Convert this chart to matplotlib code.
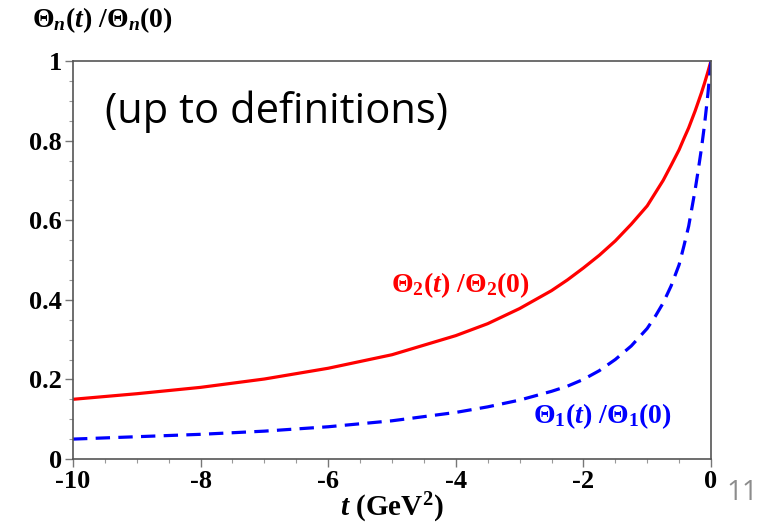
import matplotlib
matplotlib.use("Agg")
import matplotlib.pyplot as plt
from matplotlib.ticker import MultipleLocator

plt.rcParams['mathtext.fontset'] = 'custom'
plt.rcParams['mathtext.rm'] = 'Liberation Serif:bold'
plt.rcParams['mathtext.bf'] = 'Liberation Serif:bold'
plt.rcParams['mathtext.it'] = 'Liberation Serif:italic:bold'

# values
t_vals = [-10, -9, -8, -7, -6, -5, -4, -3.5, -3, -2.5, -2.25, -2, -1.75, -1.5,
          -1.25, -1, -0.875, -0.75, -0.625, -0.5, -0.425, -0.35, -0.3, -0.25,
          -0.2, -0.15, -0.1, -0.05, 0]
theta2 = [0.150, 0.164, 0.180, 0.201, 0.228, 0.262, 0.310, 0.340, 0.378, 0.423,
          0.450, 0.480, 0.512, 0.548, 0.590, 0.636, 0.668, 0.700, 0.738, 0.777,
          0.805, 0.832, 0.853, 0.874, 0.897, 0.920, 0.945, 0.972, 1.0]
theta1 = [0.050, 0.056, 0.062, 0.070, 0.081, 0.096, 0.117, 0.131, 0.148, 0.170,
          0.183, 0.200, 0.222, 0.250, 0.284, 0.328, 0.358, 0.392, 0.435, 0.488,
          0.535, 0.585, 0.630, 0.675, 0.726, 0.780, 0.842, 0.915, 1.0]

x_ticks = [-10, -8, -6, -4, -2, 0]
x_ticklabels = ['-10', '-8', '-6', '-4', '-2', '0']
y_ticks = [0, 0.2, 0.4, 0.6, 0.8, 1]
y_ticklabels = ['0', '0.2', '0.4', '0.6', '0.8', '1']

fig = plt.figure(figsize=(7.64, 5.27), dpi=100)
ax = fig.add_axes([73/764, 1 - 459/527, (711 - 73)/764, (459 - 61)/527])

ax.plot(t_vals, theta2, color='#ff0000', lw=2.3, solid_capstyle='butt')
ax.plot(t_vals, theta1, color='#0000ff', lw=2.3, linestyle=(0, (4.5, 2.6)))

ax.set_xlim(-10, 0)
ax.set_ylim(0, 1)
ax.set_xticks(x_ticks)
ax.set_xticklabels(x_ticklabels)
ax.set_yticks(y_ticks)
ax.set_yticklabels(y_ticklabels)
ax.xaxis.set_minor_locator(MultipleLocator(0.5))
ax.yaxis.set_minor_locator(MultipleLocator(0.05))

for s in ax.spines.values():
    s.set_color('#555555')
    s.set_linewidth(1.2)
ax.tick_params(which='major', length=6, width=1, color='#777777', pad=2)
ax.tick_params(which='minor', length=3, width=0.8, color='#999999')
for lab in ax.get_xticklabels() + ax.get_yticklabels():
    lab.set_family('Liberation Serif')
    lab.set_fontweight('bold')
    lab.set_fontsize(19)

fig.text(102/764, 1 - 20/527, r'$\Theta_n(t)\ /\Theta_n(0)$', fontsize=20,
         va='center', ha='center')
fig.text(392/764, 1 - 508/527, r'$t\ (\mathrm{GeV}^2)$', fontsize=21,
         va='center', ha='center')

ax.text(-9.5, 0.872, '(up to definitions)', fontsize=30, family='Open Sans',
        va='center', ha='left')
ax.text(-3.93, 0.437, r'$\Theta_2(t)\ /\Theta_2(0)$', color='#ff0000', fontsize=20,
        va='center', ha='center')
ax.text(-1.71, 0.108, r'$\Theta_1(t)\ /\Theta_1(0)$', color='#0000ff', fontsize=20,
        va='center', ha='center')

fig.text(742/764, 1 - 493/527, '11', fontsize=20, family='Open Sans',
         color='#8c8c8c', va='center', ha='center')

fig.savefig('out.png', dpi=100)
